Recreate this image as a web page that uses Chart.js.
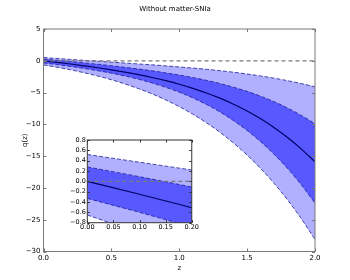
<!DOCTYPE html>
<html><head><meta charset="utf-8">
<script src="https://cdn.jsdelivr.net/npm/chart.js@4.4.1/dist/chart.umd.min.js"></script>
<style>
html,body{margin:0;padding:0;background:#fff;overflow:hidden}
#wrap{position:relative;width:350px;height:280px}
canvas{position:absolute}
</style></head><body>
<div id="wrap">
<canvas id="main" width="350" height="280" style="left:0;top:0"></canvas>
<canvas id="inset" width="150" height="110" style="left:50px;top:130px"></canvas>
</div>
<script>
// ---- data ----
const zValues  = [0,0.1,0.2,0.3,0.4,0.5,0.6,0.7,0.8,0.9,1.0,1.1,1.2,1.3,1.4,1.5,1.6,1.7,1.8,1.9,2.0];
const qMedian  = [0,-0.25,-0.51,-0.80,-1.10,-1.43,-1.79,-2.19,-2.63,-3.13,-3.69,-4.33,-5.06,-5.88,-6.83,-7.90,-9.13,-10.52,-12.10,-13.89,-15.90];
const q1Upper  = [0.28,0.09,-0.11,-0.33,-0.54,-0.78,-1.03,-1.30,-1.58,-1.90,-2.25,-2.64,-3.08,-3.58,-4.16,-4.81,-5.58,-6.44,-7.45,-8.60,-9.90];
const q1Lower  = [-0.33,-0.60,-0.89,-1.21,-1.56,-1.95,-2.40,-2.91,-3.49,-4.17,-4.94,-5.84,-6.87,-8.05,-9.42,-10.96,-12.73,-14.73,-16.99,-19.54,-22.39];
const q2Upper  = [0.52,0.37,0.22,0.07,-0.07,-0.21,-0.35,-0.50,-0.64,-0.80,-0.97,-1.15,-1.34,-1.56,-1.80,-2.08,-2.39,-2.74,-3.14,-3.59,-4.10];
const q2Lower  = [-0.65,-1.01,-1.42,-1.89,-2.40,-2.98,-3.64,-4.38,-5.21,-6.15,-7.21,-8.40,-9.75,-11.25,-12.95,-14.84,-16.96,-19.32,-21.95,-24.87,-28.10];
const zeroLineZ = [0, 2];
const zeroLineQ = [0, 0];
const mainXTicks  = [0, 0.5, 1.0, 1.5, 2.0];
const mainYTicks  = [5, 0, -5, -10, -15, -20, -25, -30];
const insetXTicks = [0, 0.05, 0.10, 0.15, 0.20];
const insetYTicks = [0.8, 0.6, 0.4, 0.2, 0.0, -0.2, -0.4, -0.6, -0.8];
const titleText = 'Without matter-SNIa';
const xLabel = 'z';
const yLabel = 'q(z)';

// ---- styles ----
const FONT = 'DejaVu Sans';
const LIGHT = 'rgb(176,176,255)';
const DARK = 'rgb(88,88,255)';
const EDGE = 'rgb(30,30,150)';

function pts(xs, ys){ return xs.map((x,i)=>({x:x, y:ys[i]})); }
function fmt(v, d){ const s = Math.abs(v).toFixed(d); return (v < -1e-9 ? '\u2212' : '') + s; }

function makeDatasets(){
  const edge = {borderColor:EDGE, borderWidth:0.8, borderDash:[4,2], pointRadius:0, cubicInterpolationMode:'monotone'};
  return [
    {data:pts(zeroLineZ, zeroLineQ), borderColor:'#7a7a7a', borderWidth:1.2, borderDash:[4,3], pointRadius:0, fill:false},
    {data:pts(zValues, qMedian), borderColor:'#000066', borderWidth:1.2, pointRadius:0, fill:false, cubicInterpolationMode:'monotone'},
    Object.assign({data:pts(zValues, q1Upper), fill:'+1', backgroundColor:DARK}, edge),
    Object.assign({data:pts(zValues, q1Lower), fill:false}, edge),
    Object.assign({data:pts(zValues, q2Upper), fill:'+1', backgroundColor:LIGHT}, edge),
    Object.assign({data:pts(zValues, q2Lower), fill:false}, edge)
  ];
}

function frameTicks(color, len, width){
  return {
    id:'frameTicks',
    afterDraw(chart){
      const ctx = chart.ctx, a = chart.chartArea;
      const xs = chart.scales.x, ys = chart.scales.y;
      ctx.save();
      ctx.strokeStyle = color; ctx.lineWidth = width;
      ctx.beginPath();
      xs.ticks.forEach(t=>{
        const px = Math.round(xs.getPixelForValue(t.value)) + 0.5;
        ctx.moveTo(px, a.bottom); ctx.lineTo(px, a.bottom - len);
        ctx.moveTo(px, a.top); ctx.lineTo(px, a.top + len);
      });
      ys.ticks.forEach(t=>{
        const py = Math.round(ys.getPixelForValue(t.value)) + 0.5;
        ctx.moveTo(a.left, py); ctx.lineTo(a.left + len, py);
        ctx.moveTo(a.right, py); ctx.lineTo(a.right - len, py);
      });
      ctx.stroke();
      ctx.strokeRect(a.left, a.top, a.right - a.left, a.bottom - a.top);
      ctx.restore();
    }
  };
}

const whiteArea = {
  id:'whiteArea',
  beforeDraw(chart){
    const ctx = chart.ctx, a = chart.chartArea;
    ctx.save(); ctx.fillStyle = '#fff';
    ctx.fillRect(a.left, a.top, a.right - a.left, a.bottom - a.top);
    ctx.restore();
  }
};

const titlePlugin = {
  id:'supTitle',
  afterDraw(chart){
    const ctx = chart.ctx;
    ctx.save();
    ctx.fillStyle = '#000';
    ctx.font = '7px "' + FONT + '"';
    ctx.textAlign = 'center'; ctx.textBaseline = 'middle';
    ctx.fillText(titleText, 175, 9);
    ctx.restore();
  }
};

Chart.defaults.font.family = FONT;
Chart.defaults.color = '#000';

new Chart(document.getElementById('main'), {
  type:'line',
  data:{datasets:makeDatasets()},
  options:{
    responsive:false, animation:false, devicePixelRatio:1,
    layout:{padding:{top:29, right:35, left:0, bottom:0}},
    plugins:{legend:{display:false}, tooltip:{enabled:false}, filler:{drawTime:'beforeDatasetsDraw'}},
    scales:{
      x:{type:'linear', min:0, max:2,
        afterBuildTicks:s=>{ s.ticks = mainXTicks.map(v=>({value:v})); },
        afterFit:s=>{ s.height = 28.5; },
        grid:{display:false, drawTicks:false}, border:{display:false},
        ticks:{padding:2, autoSkip:false, maxRotation:0, font:{size:7}, callback:v=>fmt(v,1)},
        title:{display:true, text:xLabel, font:{size:7}, padding:{top:0, bottom:8}}
      },
      y:{type:'linear', min:-30, max:5,
        afterBuildTicks:s=>{ s.ticks = mainYTicks.map(v=>({value:v})); },
        afterFit:s=>{ s.width = 43.5; },
        grid:{display:false, drawTicks:false}, border:{display:false},
        ticks:{padding:3, autoSkip:false, font:{size:7}, callback:v=>fmt(v,0)},
        title:{display:true, text:yLabel, font:{size:7}, padding:{top:21, bottom:0}}
      }
    }
  },
  plugins:[frameTicks('#7a7a7a', 3, 1), titlePlugin]
});

new Chart(document.getElementById('inset'), {
  type:'line',
  data:{datasets:makeDatasets()},
  options:{
    responsive:false, animation:false, devicePixelRatio:1,
    layout:{padding:{top:10, right:8, left:0, bottom:0}},
    plugins:{legend:{display:false}, tooltip:{enabled:false}, filler:{drawTime:'beforeDatasetsDraw'}},
    scales:{
      x:{type:'linear', min:0, max:0.2,
        afterBuildTicks:s=>{ s.ticks = insetXTicks.map(v=>({value:v})); },
        afterFit:s=>{ s.height = 17.3; },
        grid:{display:false, drawTicks:false}, border:{display:false},
        ticks:{padding:1, autoSkip:false, maxRotation:0, font:{size:6.5}, callback:v=>fmt(v,2)}
      },
      y:{type:'linear', min:-0.8, max:0.8,
        afterBuildTicks:s=>{ s.ticks = insetYTicks.map(v=>({value:v})); },
        afterFit:s=>{ s.width = 37.3; },
        grid:{display:false, drawTicks:false}, border:{display:false},
        ticks:{padding:1.5, autoSkip:false, font:{size:6.5}, callback:v=>fmt(v,1)}
      }
    }
  },
  plugins:[whiteArea, frameTicks('#333', 2.5, 1)]
});
</script>
</body></html>
